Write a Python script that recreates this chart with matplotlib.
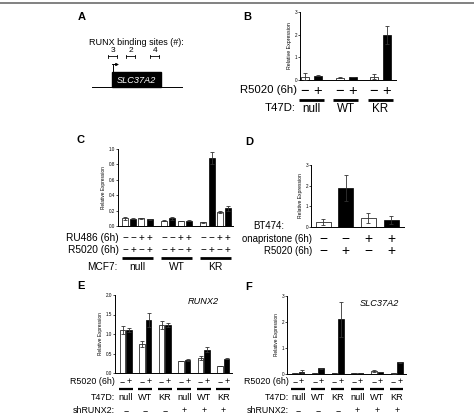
import matplotlib
matplotlib.use("Agg")
import matplotlib.pyplot as plt

plt.rcParams['font.family'] = ['Liberation Sans', 'DejaVu Sans']

# ---------------- data ----------------
b_groups = ["null", "WT", "KR"]
b_minus = [0.15, 0.10, 0.15]
b_plus = [0.19, 0.13, 2.00]
b_minus_err = [0.15, 0.02, 0.10]
b_plus_err = [0.02, 0.01, 0.40]

c_groups = ["null", "WT", "KR"]
c_ru486 = ["−", "−", "+", "+"]
c_r5020 = ["−", "+", "−", "+"]
c_vals = [[0.10, 0.095, 0.10, 0.085],
          [0.07, 0.10, 0.065, 0.07],
          [0.05, 0.88, 0.18, 0.23]]
c_errs = [[0.02, 0.01, 0.005, 0.005],
          [0.01, 0.02, 0.005, 0.005],
          [0.005, 0.08, 0.01, 0.035]]

d_onapristone = ["−", "−", "+", "+"]
d_r5020 = ["−", "+", "−", "+"]
d_vals = [0.25, 1.88, 0.43, 0.35]
d_errs = [0.14, 0.62, 0.24, 0.20]

ef_groups = ["null", "WT", "KR", "null", "WT", "KR"]
ef_sh = ["−", "−", "−", "+", "+", "+"]
e_minus = [1.10, 0.74, 1.23, 0.30, 0.39, 0.18]
e_plus = [1.10, 1.36, 1.23, 0.34, 0.60, 0.37]
e_minus_err = [0.10, 0.07, 0.10, 0.005, 0.05, 0.005]
e_plus_err = [0.05, 0.19, 0.04, 0.02, 0.06, 0.01]

f_minus = [0.03, 0.04, 0.05, 0.03, 0.10, 0.02]
f_plus = [0.09, 0.22, 2.10, 0.04, 0.09, 0.45]
f_minus_err = [0.005, 0.005, 0.005, 0.005, 0.04, 0.005]
f_plus_err = [0.05, 0.03, 0.66, 0.005, 0.005, 0.03]

a_sites = ["3", "2", "4"]

# ---------------- layout helpers ----------------
W, H = 474, 417
fig = plt.figure(figsize=(W / 100, H / 100), dpi=100)
ov = fig.add_axes([0, 0, 1, 1])
ov.set_xlim(0, W)
ov.set_ylim(H, 0)
ov.axis("off")
ov.set_zorder(5)
ov.patch.set_alpha(0)

ECOL = "#333333"


def make_ax(l, t, r, b, ymax, yt, ytl, ylab_fs=3.6):
    ax = fig.add_axes([l / W, 1 - b / H, (r - l) / W, (b - t) / H])
    ax.set_xlim(l, r)
    ax.set_ylim(0, ymax)
    for s in ["top", "right"]:
        ax.spines[s].set_visible(False)
    for s in ["left", "bottom"]:
        ax.spines[s].set_linewidth(0.7)
    ax.set_xticks([])
    ax.set_yticks(yt)
    ax.set_yticklabels(ytl)
    ax.tick_params(axis="y", length=1.5, width=0.5, labelsize=3.3, pad=0.6)
    ax.set_ylabel("Relative Expression", fontsize=ylab_fs, labelpad=2)
    ax.patch.set_alpha(0)
    return ax


def bars(ax, xs, vals, errs, width, filled):
    for x, v, e, f in zip(xs, vals, errs, filled):
        ax.bar(x, v, width=width, color="black" if f else "white",
               edgecolor="black", linewidth=0.5, zorder=2)
        ax.errorbar(x, v, yerr=e, fmt="none", ecolor=ECOL, elinewidth=0.6,
                    capsize=1.4, capthick=0.6, zorder=3)


def txt(x, y, s, fs, ha="center", va="center", **kw):
    ov.text(x, y, s, fontsize=fs, ha=ha, va=va, **kw)


def uline(x0, x1, y, lw=2.0):
    ov.plot([x0, x1], [y, y], color="black", lw=lw, solid_capstyle="butt")


# top border
ov.plot([0, W], [3, 3], color="#777777", lw=1.3)

# panel letters
for lab, x, y in [("A", 78, 17), ("B", 243, 17), ("C", 77, 140),
                  ("D", 245, 142), ("E", 77, 286), ("F", 245, 287)]:
    txt(x, y, lab, 8, ha="left", fontweight="bold")

# ---------------- Panel A ----------------
txt(136, 42, "RUNX binding sites (#):", 6.5)
for s, xc in zip(a_sites, [113, 131, 155]):
    txt(xc, 50, s, 6.0)
    ov.plot([xc - 4.5, xc + 4.5], [56, 56], color="black", lw=0.6)
    ov.plot([xc - 4.5, xc - 4.5], [54.5, 57.5], color="black", lw=0.6)
    ov.plot([xc + 4.5, xc + 4.5], [54.5, 57.5], color="black", lw=0.6)
ov.plot([92, 182], [86.5, 86.5], color="black", lw=0.7)
ov.add_patch(plt.Rectangle((112, 72), 49, 15, color="black"))
txt(136.5, 80, "SLC37A2", 6.6, color="white", style="italic")
ov.plot([112.7, 112.7], [72, 64.5], color="black", lw=0.7)
ov.annotate("", xy=(119, 64.5), xytext=(112.4, 64.5),
            arrowprops=dict(arrowstyle="-|>", lw=0.7, color="black",
                            mutation_scale=4, shrinkA=0, shrinkB=0))

# ---------------- Panel B ----------------
axB = make_ax(300, 12, 396, 80, 3, [0, 1, 2, 3], ["0", "1", "2", "3"], 3.8)
xsB, vB, eB, fB = [], [], [], []
for g in range(3):
    x0 = 305 + g * 34.5
    xsB += [x0, x0 + 13]
    vB += [b_minus[g], b_plus[g]]
    eB += [b_minus_err[g], b_plus_err[g]]
    fB += [False, True]
bars(axB, xsB, vB, eB, 8, fB)
txt(297, 90, "R5020 (6h)", 8.2, ha="right")
txt(296, 108, "T47D:", 8.2, ha="right")
for g in range(3):
    x0 = xsB[2 * g]
    x1 = xsB[2 * g + 1]
    txt(x0, 90.5, "−", 10.5)
    txt(x1, 90.5, "+", 10.5)
    uline(x0 - 6, x1 + 6, 99.5)
    txt((x0 + x1) / 2, 108.5, b_groups[g], 8.4)

# ---------------- Panel C ----------------
axC = make_ax(118, 149, 233, 226, 1.0, [0, 0.2, 0.4, 0.6, 0.8, 1.0],
              ["0.0", "0.2", "0.4", "0.6", "0.8", "1.0"], 3.4)
xsC, vC, eC, fC = [], [], [], []
for g in range(3):
    for i in range(4):
        xsC.append(125 + g * 39.2 + i * 8.2)
        vC.append(c_vals[g][i])
        eC.append(c_errs[g][i])
        fC.append(i % 2 == 1)
bars(axC, xsC, vC, eC, 6, fC)
txt(119, 238, "RU486 (6h)", 7.3, ha="right")
txt(119, 249.5, "R5020 (6h)", 7.3, ha="right")
txt(118, 267.5, "MCF7:", 7.3, ha="right")
for g in range(3):
    xg = xsC[4 * g:4 * g + 4]
    for i in range(4):
        txt(xg[i], 238, c_ru486[i], 7.2)
        txt(xg[i], 249.5, c_r5020[i], 7.2)
    uline(xg[0] - 3, xg[3] + 3, 258)
    txt((xg[0] + xg[3]) / 2, 267.5, c_groups[g], 7.4)

# ---------------- Panel D ----------------
axD = make_ax(311, 165, 404, 227, 3, [0, 1, 2, 3], ["0", "1", "2", "3"], 3.6)
xsD = [323 + i * 22.7 for i in range(4)]
bars(axD, xsD, d_vals, d_errs, 15, [False, True, False, True])
txt(284, 226, "BT474:", 7.0, ha="right")
txt(312, 238.5, "onapristone (6h)", 6.9, ha="right")
txt(312, 251, "R5020 (6h)", 6.9, ha="right")
for i in range(4):
    txt(xsD[i], 238.5, d_onapristone[i], 10)
    txt(xsD[i], 251, d_r5020[i], 10)

# ---------------- Panel E & F ----------------
def ef_panel(l, t, r, b, ymax, yt, ytl, x0, gstep, istep, w,
             vm, vp, em, ep, gene, gx, gy, labx):
    ax = make_ax(l, t, r, b, ymax, yt, ytl, 3.4)
    xs, v, e, f = [], [], [], []
    for g in range(6):
        xa = x0 + g * gstep
        xs += [xa, xa + istep]
        v += [vm[g], vp[g]]
        e += [em[g], ep[g]]
        f += [False, True]
    bars(ax, xs, v, e, w, f)
    txt(gx, gy, gene, 6.6, style="italic")
    txt(labx, 381.5, "R5020 (6h)", 6.4, ha="right")
    txt(labx, 397.5, "T47D:", 6.4, ha="right")
    txt(labx, 410.5, "shRUNX2:", 6.4, ha="right")
    for g in range(6):
        xa, xb = xs[2 * g], xs[2 * g + 1]
        txt(xa, 381.5, "−", 6.4)
        txt(xb, 381.5, "+", 6.4)
        uline(xa - 3.5, xb + 3.5, 388.5, 1.6)
        txt((xa + xb) / 2, 397.5, ef_groups[g], 6.6)
        txt((xa + xb) / 2, 410.5, ef_sh[g], 6.4)
    return ax


ef_panel(115, 295, 232, 373, 2.0, [0, 0.5, 1.0, 1.5, 2.0],
         ["0.0", "0.5", "1.0", "1.5", "2.0"], 122.5, 19.5, 6.7, 5.5,
         e_minus, e_plus, e_minus_err, e_plus_err, "RUNX2", 203, 302, 115)
ef_panel(287, 296, 406, 374, 3, [0, 1, 2, 3], ["0", "1", "2", "3"],
         295, 19.7, 6.5, 5.5,
         f_minus, f_plus, f_minus_err, f_plus_err, "SLC37A2", 379, 303, 289)

fig.savefig("out.png", dpi=100)
